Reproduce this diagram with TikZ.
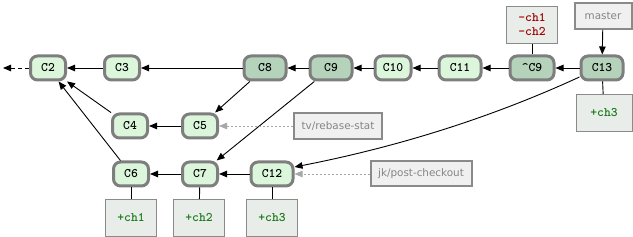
\documentclass[tikz,border=0pt]{standalone}
\usepackage{fontspec}
\setmainfont{DejaVu Sans}
\usetikzlibrary{arrows.meta}
\definecolor{cmtlight}{HTML}{DCF6DC}
\definecolor{cmtdark}{HTML}{B5D3BB}
\definecolor{cmtborder}{HTML}{7E7E7E}
\definecolor{boxfill}{HTML}{E9EDE9}
\definecolor{boxborder}{HTML}{8A8A8A}
\definecolor{lblfill}{HTML}{F0F0F0}
\definecolor{lbltext}{HTML}{858585}
\definecolor{redtxt}{HTML}{A00000}
\definecolor{greentxt}{HTML}{187A18}
\definecolor{dotgray}{HTML}{A8A8A8}
\begin{document}
\begin{tikzpicture}[x=1pt,y=-1pt,
  commit/.style={draw=cmtborder, line width=3pt, rounded corners=7pt, fill=cmtlight,
    minimum width=35pt, minimum height=24pt, inner sep=0pt,
    font=\ttfamily\bfseries\fontsize{13}{14}\selectfont},
  wide/.style={minimum width=42pt},
  dark/.style={fill=cmtdark},
  chbox/.style={draw=boxborder, line width=1pt, fill=boxfill, minimum width=51pt,
    minimum height=37pt, inner sep=0pt, align=center,
    font=\ttfamily\bfseries\fontsize{13}{14}\selectfont},
  lbl/.style={draw=boxborder, line width=2pt, fill=lblfill, text=lbltext,
    minimum height=26pt, inner sep=0pt, font=\fontsize{10.4}{12}\selectfont},
  arr/.style={-{Triangle[length=8pt,width=6.5pt]}, line width=0.9pt},
  dotarr/.style={-{Triangle[length=8pt,width=6.5pt]}, color=dotgray, line width=0.9pt,
    dash pattern=on 2pt off 2pt},
  plain/.style={line width=0.9pt}
]
\useasboundingbox (0,0) rectangle (633,237);

% commits
\node[commit] (C2) at (48,68) {C2};
\node[commit] (C3) at (122,68) {C3};
\node[commit,wide,dark] (C8) at (265,68) {C8};
\node[commit,wide,dark] (C9) at (331,68) {C9};
\node[commit,minimum width=36pt] (C10) at (393,68) {C10};
\node[commit,wide] (C11) at (460,68) {C11};
\node[commit,wide,dark,minimum width=44pt] (C9r) at (532,68) {\textasciicircum C9};
\node[commit,wide,dark] (C13) at (602,68) {C13};
\node[commit] (C4) at (130,126) {C4};
\node[commit] (C5) at (200,126) {C5};
\node[commit] (C6) at (131,174) {C6};
\node[commit] (C7) at (200,174) {C7};
\node[commit,wide] (C12) at (272,174) {C12};

% change boxes
\node[chbox, text=redtxt] (neg) at (532,25) {-ch1\\-ch2};
\node[chbox, text=greentxt, minimum width=56pt] (p3top) at (604,113) {+ch3};
\node[chbox, text=greentxt] (p1) at (131,218) {+ch1};
\node[chbox, text=greentxt] (p2) at (199,218) {+ch2};
\node[chbox, text=greentxt] (p3) at (272,218) {+ch3};

% labels
\node[lbl, minimum width=57pt, minimum height=26pt] (master) at (603,16) {master};
\node[lbl, minimum width=88pt] (tv) at (338,126) {tv/rebase-stat};
\node[lbl, minimum width=101pt, minimum height=25pt] (jk) at (421,174) {jk/post-checkout};

\coordinate (past) at (3,68);

% history arrows
\draw[arr] (C3) -- (C2);
\draw[arr] (C8) -- (C3);
\draw[arr] (C9) -- (C8);
\draw[arr] (C10) -- (C9);
\draw[arr] (C11) -- (C10);
\draw[arr] (C9r) -- (C11);
\draw[arr] (C13) -- (C9r);
\draw[arr] (C8) -- (C5);
\draw[arr] (C9) -- (C7);
\draw[arr] (C4) -- (C2);
\draw[arr] (C6) -- (C2);
\draw[arr] (C5) -- (C4);
\draw[arr] (C7) -- (C6);
\draw[arr] (C12) -- (C7);
\draw[arr] ([yshift=-9pt]C13.west) .. controls (486,120) and (392,148) .. ([yshift=7pt]C12.east);
\draw[arr, dash pattern=on 4pt off 3pt] (C2) -- (past);
\draw[arr] (master) -- (C13);

% plain connectors
\draw[plain] (neg) -- (C9r);
\draw[plain] (C13) -- (p3top);
\draw[plain] (C6) -- (p1);
\draw[plain] (C7) -- (p2);
\draw[plain] (C12) -- (p3);

% dotted ref arrows
\draw[dotarr] (tv) -- (C5);
\draw[dotarr] (jk) -- (C12);
\end{tikzpicture}
\end{document}
